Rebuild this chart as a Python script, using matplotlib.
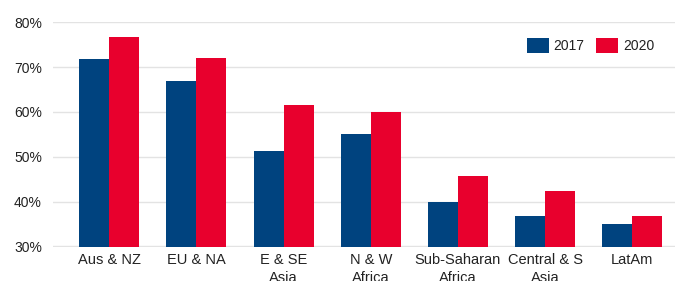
import matplotlib
matplotlib.use("Agg")
import matplotlib.pyplot as plt
import numpy as np

categories = ["Aus & NZ", "EU & NA", "E & SE\nAsia", "N & W\nAfrica",
              "Sub-Saharan\nAfrica", "Central & S\nAsia", "LatAm"]
values_2017 = [71.8, 67.0, 51.4, 55.2, 40.0, 36.8, 35.1]
values_2020 = [76.8, 72.0, 61.5, 60.0, 45.8, 42.4, 36.8]
series_labels = ["2017", "2020"]
y_ticks = [30, 40, 50, 60, 70, 80]

blue = "#00437F"
red = "#E8002D"
text_color = "#222222"

plt.rcParams['font.family'] = ['Liberation Sans', 'DejaVu Sans']

fig = plt.figure(figsize=(6.75, 2.81), dpi=100)
ax = fig.add_axes([53/675, 34.5/281, 1 - 53/675, (258.7 - 34.5)/281])

x = np.arange(len(categories))
w = 0.344
ax.bar(x - w/2, values_2017, width=w, color=blue, label=series_labels[0], zorder=3)
ax.bar(x + w/2, values_2020, width=w, color=red, label=series_labels[1], zorder=3)

ax.set_ylim(30, 80)
ax.set_xlim(-0.646, 6.49)
ax.set_yticks(y_ticks)
ax.set_yticklabels([f"{t}%" for t in y_ticks])
ax.set_xticks(x)
ax.set_xticklabels(categories)
ax.yaxis.grid(True, color="#E3E3E3", linewidth=1.0, zorder=0)
ax.set_axisbelow(True)
for s in ax.spines.values():
    s.set_visible(False)
ax.tick_params(axis='both', length=0, labelsize=10, colors=text_color)
ax.tick_params(axis='x', labelsize=10.5, pad=5)
ax.tick_params(axis='y', pad=8)
for lbl in ax.get_xticklabels():
    lbl.set_linespacing(1.3)

leg = ax.legend(loc="upper right", bbox_to_anchor=(0.982, 0.975), ncol=2, frameon=False,
                fontsize=10, handlelength=1.6, handleheight=1.3,
                handletextpad=0.35, columnspacing=0.8, borderaxespad=0.3)
for t in leg.get_texts():
    t.set_color(text_color)

fig.savefig("out.png", dpi=100)
